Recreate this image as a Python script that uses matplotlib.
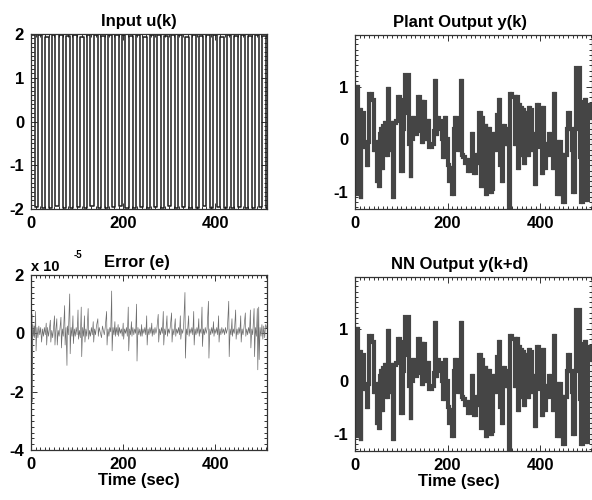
import matplotlib
matplotlib.use("Agg")
import matplotlib.pyplot as plt
from matplotlib.ticker import MultipleLocator, FixedLocator

plt.rcParams['font.family'] = ['Liberation Sans', 'DejaVu Sans']
plt.rcParams['font.weight'] = 'bold'
plt.rcParams['axes.unicode_minus'] = False

# ---------------- data ----------------
titles = ["Input u(k)", "Plant Output y(k)", "Error (e)", "NN Output y(k+d)"]
xlabel = "Time (sec)"
x_ticks = [0, 200, 400]

# Input u(k): switching instants and held levels
u_t = [0, 8, 15, 23, 31, 38, 46, 53, 61, 69, 76, 84, 91, 99, 107, 114, 122, 129,
       137, 145, 152, 160, 167, 175, 183, 190, 198, 205, 213, 221, 228, 236, 243,
       251, 259, 266, 274, 281, 289, 297, 304, 312, 319, 327, 335, 342, 350, 357,
       365, 373, 380, 388, 395, 403, 411, 418, 426, 433, 441, 449, 456, 464, 471,
       479, 487, 494, 502, 509, 512]
u_v = [1.97, -1.95, 1.98, -1.97, 1.93, -1.98, 1.97, -1.94, 1.98, -1.97, 1.95,
       -1.98, 1.97, -1.95, 1.94, -1.97, 1.98, -1.93, 1.97, -1.98, 1.95, -1.97,
       1.98, -1.95, 1.97, -1.94, 1.98, -1.97, 1.95, -1.98, 1.97, -1.95, 1.93,
       -1.97, 1.98, -1.95, 1.97, -1.98, 1.95, -1.93, 1.97, -1.97, 1.98, -1.95,
       1.94, -1.98, 1.97, -1.97, 1.95, -1.94, 1.98, -1.97, 1.97, -1.95, 1.93,
       -1.98, 1.97, -1.97, 1.95, -1.96, 1.98, -1.97, 1.95, -1.98, 1.97, -1.95,
       1.96, -1.97, -1.97]

# Plant output y(k): step instants and held levels (10 per line)
y_t = [0, 2, 4, 7, 10, 12, 14, 19, 23, 26,
       28, 31, 36, 41, 44, 47, 49, 51, 53, 56,
       59, 61, 65, 68, 71, 73, 76, 79, 82, 85,
       89, 93, 97, 100, 103, 106, 108, 117, 120, 122,
       125, 128, 133, 137, 140, 142, 145, 147, 151, 154,
       157, 160, 166, 170, 173, 175, 177, 181, 185, 188,
       191, 194, 197, 200, 204, 207, 210, 213, 216, 219,
       222, 226, 229, 231, 234, 238, 242, 245, 249, 252,
       254, 257, 261, 265, 268, 272, 274, 277, 280, 282,
       284, 286, 288, 290, 292, 295, 298, 302, 306, 311,
       313, 317, 320, 324, 328, 331, 333, 335, 340, 345,
       348, 353, 355, 357, 359, 361, 363, 365, 367, 369,
       371, 373, 376, 379, 382, 385, 388, 391, 394, 397,
       400, 403, 406, 409, 412, 415, 419, 423, 427, 430,
       433, 437, 441, 444, 448, 450, 453, 457, 461, 464,
       468, 471, 475, 477, 485, 489, 493, 497, 500, 504,
       508, 512]
y_v = [0.75, 0.05, 1.0, -1.05, 0.55, -1.1, 0.5, -0.15, -0.1, -0.5,
       -0.05, 0.85, 0.75, -0.2, -0.1, -0.8, -0.05, -0.9, 0.1, 0.2,
       -0.55, 0.25, 0.3, -0.3, 0.95, 0.0, -0.2, 0.3, -1.1, 0.3,
       0.35, 0.8, 0.75, -0.6, 0.2, 0.5, 1.22, -0.1, -0.7, 0.0,
       0.4, 0.1, 0.15, 0.8, 0.35, 0.7, -0.05, 0.7, 0.0, 0.3,
       0.35, -0.15, -0.1, 0.15, 1.1, 0.1, 0.4, 0.35, 0.2, 0.0,
       -0.35, 0.4, 0.0, -0.5, -0.8, -0.55, -1.05, 0.2, 0.4, 0.35,
       -0.2, 0.4, 1.1, -0.3, -0.35, -0.45, -0.4, -0.6, -0.5, 0.1,
       -0.5, -0.65, -0.3, -0.45, 0.5, -0.9, 0.4, -0.6, -0.9, 0.25,
       -1.05, 0.1, -0.8, 0.2, -1.0, -0.95, 0.1, -0.2, 0.45, 0.75,
       -0.5, -0.8, 0.25, -0.1, 0.2, -0.1, -1.4, 0.85, 0.8, -0.1,
       0.8, -0.55, 0.65, -0.3, 0.6, -0.2, 0.55, -0.45, 0.4, -0.1,
       0.5, -0.3, 0.6, 0.55, -0.2, 0.1, -0.85, -0.1, 0.65, 0.4,
       -0.15, -0.65, 0.6, -0.55, -0.1, -0.3, 0.1, -0.2, -0.55, 0.85,
       -0.05, -1.05, -0.05, -1.05, -0.3, -1.2, -0.3, 0.2, 0.5, 0.2,
       -0.2, -1.0, 0.2, 1.35, -0.35, -1.2, 0.7, 0.75, -1.15, 0.4,
       0.65, 0.65]

# NN output (visually identical to plant output)
nn_t = y_t
nn_v = y_v

# Error (units of 1e-5), 10 per line
e_t = [0, 1, 2, 3, 4, 6, 7, 8, 10, 11,
       13, 15, 17, 19, 21, 23, 25, 27, 29, 31,
       33, 34, 36, 38, 40, 42, 43, 45, 47, 49,
       51, 52, 54, 56, 57, 59, 61, 63, 65, 66,
       68, 70, 73, 74, 76, 78, 79, 81, 84, 85,
       87, 89, 91, 92, 94, 96, 98, 100, 102, 103,
       105, 107, 109, 110, 112, 114, 116, 117, 119, 121,
       124, 125, 127, 129, 131, 133, 135, 136, 138, 140,
       142, 145, 146, 148, 150, 153, 155, 157, 159, 161,
       164, 165, 167, 169, 171, 173, 175, 176, 178, 180,
       182, 183, 185, 187, 189, 190, 192, 194, 196, 198,
       200, 201, 203, 205, 207, 209, 211, 212, 214, 216,
       218, 219, 221, 223, 225, 227, 229, 230, 232, 234,
       236, 238, 240, 241, 243, 245, 247, 249, 251, 252,
       254, 256, 258, 260, 262, 263, 265, 267, 269, 271,
       273, 276, 277, 279, 281, 283, 285, 287, 288, 290,
       292, 295, 296, 298, 300, 302, 305, 306, 308, 310,
       313, 314, 316, 318, 320, 322, 324, 325, 327, 329,
       331, 334, 335, 337, 339, 342, 343, 345, 347, 349,
       351, 353, 354, 356, 358, 360, 362, 364, 365, 367,
       369, 371, 372, 374, 376, 378, 380, 382, 385, 386,
       388, 390, 392, 394, 396, 397, 399, 401, 403, 405,
       407, 408, 410, 412, 414, 416, 418, 420, 422, 424,
       426, 429, 430, 432, 434, 436, 437, 439, 441, 444,
       445, 447, 449, 451, 453, 455, 456, 458, 460, 462,
       465, 466, 468, 470, 472, 474, 476, 477, 479, 481,
       484, 485, 487, 489, 491, 492, 494, 495, 497, 499,
       501, 503, 505, 507, 509, 511]
e_v = [0.7, -0.1, 0.65, -2.35, 0.3, -0.1, 0.25, -0.15, 0.75, -0.6,
       0.2, -0.15, 0.25, -0.05, 0.2, -0.3, 0.15, -0.1, 0.2, -0.05,
       0.35, -0.4, 0.2, -0.1, 0.15, 0.45, -0.3, 0.1, -0.15, 0.2,
       0.6, -0.4, 0.15, 0.5, -0.4, 0.1, -0.1, 0.2, 0.55, -0.5,
       0.15, -0.1, 0.95, -0.4, 0.2, -1.1, 0.25, -0.05, 1.35, -0.7,
       0.2, -0.1, 0.6, -0.35, 0.15, -0.1, 0.2, -0.05, 0.8, -0.2,
       0.1, -0.15, 0.9, -0.8, 0.2, -0.1, 0.6, -0.3, 0.15, -0.1,
       0.85, -0.2, 0.1, -0.1, 0.2, -0.05, 0.4, -0.3, 0.15, -0.05,
       0.25, 0.5, -0.1, 0.2, 0.05, -0.15, 0.25, 0.1, -0.05, 0.2,
       0.75, -0.4, 0.15, -0.1, 0.2, 0.05, 1.45, -0.6, 0.2, -0.05,
       0.4, -0.1, 0.2, -0.05, 0.3, -0.1, 0.2, 0.0, 0.15, -0.1,
       0.35, -0.2, 0.15, 0.0, 0.2, -0.1, 0.9, -0.6, 0.15, -0.05,
       0.4, -0.1, 0.2, -0.05, 0.15, 0.0, 1.0, -0.95, 0.2, -0.05,
       0.15, -0.1, 0.3, -0.1, 0.15, 0.0, 0.2, -0.05, 0.6, -0.4,
       0.15, -0.05, 0.2, 0.0, 0.35, -0.1, 0.15, -0.05, 0.2, 0.0,
       0.15, 0.65, -0.3, 0.15, -0.05, 0.2, 0.0, 0.75, -0.4, 0.15,
       -0.05, 0.6, -0.1, 0.15, 0.0, 0.2, 0.7, -0.3, 0.15, -0.05,
       0.5, -0.1, 0.15, 0.0, 0.2, -0.05, 0.6, -0.2, 0.15, 0.0,
       0.2, 1.4, -0.85, 0.15, -0.05, 0.6, -0.1, 0.15, 0.0, 0.2,
       -0.05, 0.75, -0.4, 0.15, -0.05, 0.2, 0.0, 0.5, -0.1, 0.15,
       0.0, 0.9, -0.45, 0.15, -0.05, 0.2, 0.0, 0.15, 1.1, -0.85,
       0.15, -0.05, 0.2, 0.0, 0.4, -0.1, 0.15, 0.0, 0.2, -0.05,
       0.6, -0.3, 0.15, -0.05, 0.2, 0.0, 0.15, -0.05, 0.2, 0.0,
       0.15, 1.1, -0.8, 0.15, -0.05, 0.5, -0.1, 0.15, 0.0, 0.8,
       -0.2, 0.15, -0.05, 0.2, 0.0, 0.6, -0.3, 0.15, -0.05, 0.2,
       0.7, -0.1, 0.15, -0.05, 0.2, 0.0, 0.8, -0.5, 0.15, -0.05,
       0.85, -0.8, 0.2, -0.1, 0.85, -1.25, 0.9, -0.9, 0.2, -0.1,
       0.3, -0.2, 0.25, -0.15, 0.3, 0.2]

# ---------------- figure ----------------
W, H = 592, 500
fig = plt.figure(figsize=(W / 100, H / 100), dpi=100)

def box(l, t, r, b):
    return [l / W, 1 - b / H, (r - l) / W, (b - t) / H]

ax1 = fig.add_axes(box(31, 34, 267, 209))
ax2 = fig.add_axes(box(355, 35, 592, 209))
ax3 = fig.add_axes(box(31, 275, 267, 450))
ax4 = fig.add_axes(box(355, 277, 592, 451))

FS = 12
EDGE = '#333333'
PLANT = '#454545'

def style(ax, ylim, yticks, yminor, title, title_x):
    ax.set_xlim(0, 512)
    ax.set_ylim(*ylim)
    ax.xaxis.set_major_locator(FixedLocator(x_ticks))
    ax.xaxis.set_minor_locator(MultipleLocator(10))
    ax.yaxis.set_major_locator(FixedLocator(yticks))
    ax.yaxis.set_minor_locator(MultipleLocator(yminor))
    ax.tick_params(which='both', direction='in', top=True, right=True,
                   colors=EDGE, labelcolor='black', labelsize=FS, width=0.7)
    ax.tick_params(which='major', length=4, pad=5)
    ax.tick_params(which='minor', length=2)
    for lab in ax.get_xticklabels() + ax.get_yticklabels():
        lab.set_fontweight('bold')
    for s in ax.spines.values():
        s.set_color(EDGE)
        s.set_linewidth(0.9)
    ax.set_title(title, fontsize=FS, fontweight='bold', x=title_x, pad=6)

ax1.step(u_t, u_v, where='post', color='#1c1c1c', lw=1.1)
style(ax1, (-2, 2), [-2, -1, 0, 1, 2], 0.1, titles[0], 0.458)

def plant(ax, t, v):
    ax.step(t, v, where='post', color=PLANT, lw=1.7,
            solid_joinstyle='miter', solid_capstyle='butt')
    ax.vlines(t[1:], v[:-1], v[1:], color=PLANT, lw=3.0, capstyle='projecting')

plant(ax2, y_t, y_v)
style(ax2, (-1.33, 1.98), [-1, 0, 1], 0.1, titles[1], 0.443)

ax3.plot(e_t, e_v, color='#6e6e6e', lw=0.5)
style(ax3, (-4, 2), [-4, -2, 0, 2], 0.2, titles[2], 0.45)
ax3.set_xlabel(xlabel, fontsize=FS, fontweight='bold', x=0.455, labelpad=1)
fig.text(31 / W, 1 - 267 / H, "x 10", fontsize=10.5, fontweight='bold', va='center', ha='left')
fig.text(74 / W, 1 - 255 / H, "-5", fontsize=7, fontweight='bold', va='center', ha='left')

plant(ax4, nn_t, nn_v)
style(ax4, (-1.33, 1.98), [-1, 0, 1], 0.1, titles[3], 0.44)
ax4.set_xlabel(xlabel, fontsize=FS, fontweight='bold', x=0.44, labelpad=1)

fig.savefig("out.png", dpi=100)
